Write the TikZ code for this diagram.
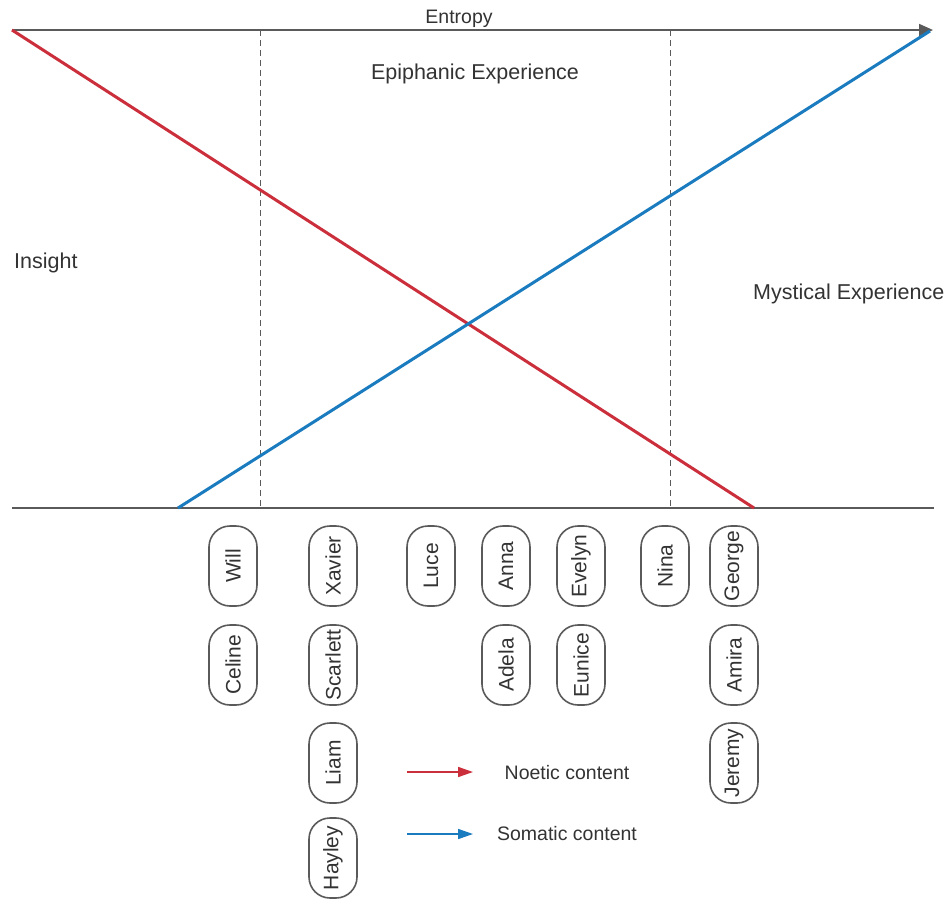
\documentclass[tikz,border=0pt]{standalone}
\usepackage{fontspec}
\setmainfont{Liberation Sans}
\usetikzlibrary{arrows.meta}
\definecolor{txt}{HTML}{333333}
\definecolor{axisgray}{HTML}{5A5A5A}
\definecolor{noetic}{HTML}{CC2F3C}
\definecolor{somatic}{HTML}{1A7BBF}
\tikzset{
  pill/.style={draw=axisgray, line width=1.6pt, rounded corners=21pt,
    minimum width=48pt, minimum height=80pt, inner sep=0pt},
  pilltext/.style={rotate=90, text=txt, font=\fontsize{21}{24}\selectfont, inner sep=0pt},
  biglabel/.style={text=txt, font=\fontsize{21.5}{25}\selectfont, inner sep=0pt},
  smalllabel/.style={text=txt, font=\fontsize{19.5}{23}\selectfont, inner sep=0pt},
  axisline/.style={draw=axisgray, line width=1.8pt},
  divider/.style={draw=axisgray, line width=1pt, dash pattern=on 6pt off 4pt},
  curve/.style={line width=3pt},
}
\begin{document}
\begin{tikzpicture}[x=1pt,y=-1pt]
\useasboundingbox (0,0) rectangle (951,898);
\fill[white] (0,0) rectangle (951,898);

% anchor points of the chart
\coordinate (tl) at (12,30);
\coordinate (tr) at (933,30);
\coordinate (bl) at (12,508);
\coordinate (br) at (934,508);
\coordinate (rend) at (754,508);
\coordinate (bstart) at (178,508);
\coordinate (btip) at (930,31);
\coordinate (d1t) at (260,30);
\coordinate (d1b) at (260,508);
\coordinate (d2t) at (670,30);
\coordinate (d2b) at (670,508);

% zone dividers
\draw[divider] (d1t) -- (d1b);
\draw[divider] (d2t) -- (d2b);

% baseline and entropy axis
\draw[axisline] (bl) -- (br);
\draw[axisline, -{Triangle[length=14pt,width=12pt]}] (tl) -- (tr);

% content lines
\draw[curve, noetic] (tl) -- (rend);
\draw[curve, somatic] (bstart) -- (btip);

% labels
\node[smalllabel] (entropy) at (459,19) {Entropy};
\node[biglabel] (epi) at (475,74) {Epiphanic Experience};
\node[biglabel, anchor=west] (insight) at (14,263) {Insight};
\node[biglabel, anchor=west] (myst) at (753,294) {Mystical Experience};

% participant pills
\foreach \nm/\x/\y/\lbl in {
  will/233/566/Will, celine/233/665/Celine,
  xavier/333/566/Xavier, scarlett/333/665/Scarlett,
  liam/333/763/Liam, hayley/333/858/Hayley,
  luce/431/566/Luce,
  anna/506/566/Anna, adela/506/665/Adela,
  evelyn/581/566/Evelyn, eunice/581/665/Eunice,
  nina/665/566/Nina,
  george/734/566/George, amira/734/665/Amira, jeremy/734/763/Jeremy}
{
  \node[pill] (\nm) at (\x,\y) {};
  \node[pilltext] (\nm-t) at (\nm.center) {\lbl};
}

% legend
\coordinate (ln1a) at (407,772);
\coordinate (ln1b) at (473,772);
\coordinate (ln2a) at (407,834);
\coordinate (ln2b) at (473,834);
\draw[noetic, line width=1.6pt, -{Triangle[length=15pt,width=10pt]}] (ln1a) -- (ln1b);
\draw[somatic, line width=1.6pt, -{Triangle[length=15pt,width=10pt]}] (ln2a) -- (ln2b);
\node[smalllabel] (noeticlbl) at (567,773) {Noetic content};
\node[smalllabel] (somaticlbl) at (567,834) {Somatic content};
\end{tikzpicture}
\end{document}
